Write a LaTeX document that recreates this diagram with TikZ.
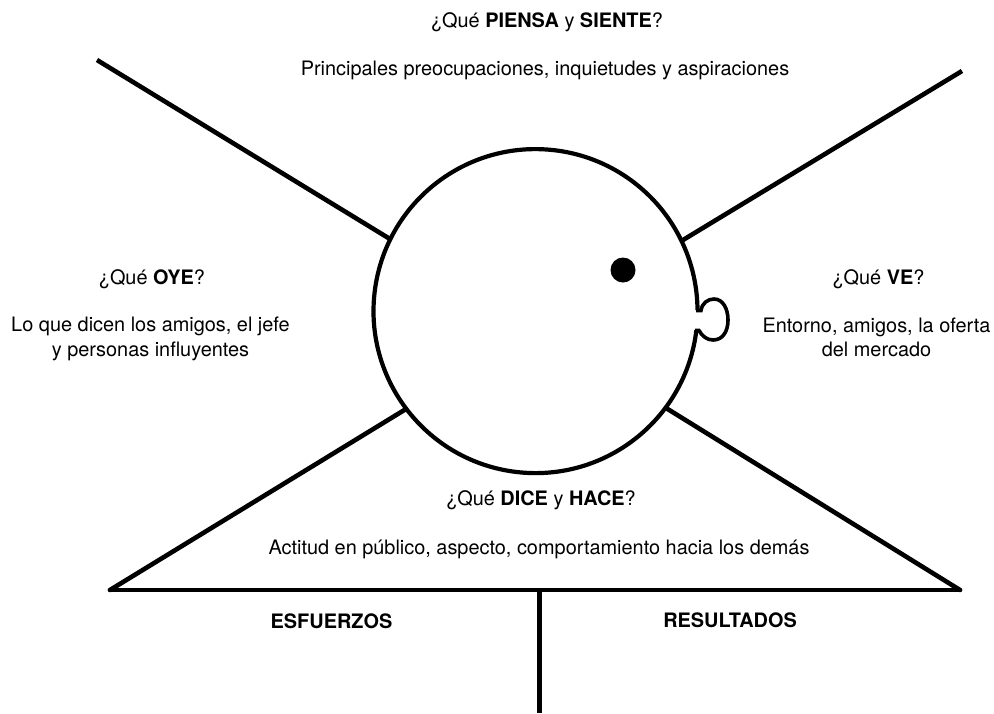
\documentclass[tikz,border=0pt]{standalone}
\usepackage{fontspec}
\setmainfont{TeX Gyre Heros}
\tikzset{
  heavy/.style={line width=4.6pt,black},
  ring/.style={line width=4.2pt,black},
  thinner/.style={line width=3.6pt,black},
  lbl/.style={font=\fontsize{19.9}{24.5}\selectfont,align=center,inner sep=0pt,anchor=base},
  twoline/.style={lbl,anchor=center}
}
\begin{document}
\begin{tikzpicture}[x=1pt,y=-1pt,line cap=butt]
\useasboundingbox (0,0) rectangle (994,713);
\fill[white] (0,0) rectangle (994,713);
\coordinate (tl) at (97,60);
\coordinate (tlc) at (390,239);
\coordinate (tr) at (962,71);
\coordinate (trc) at (683,240);
\coordinate (bl) at (110,590);
\coordinate (blc) at (406,409);
\coordinate (br) at (960,590);
\coordinate (brc) at (666,408);
\coordinate (m) at (539.5,590);
\coordinate (mb) at (539.5,713);
\coordinate (me) at (696.4,330);
\draw[ring] (me) arc[start angle=6.7,end angle=359.65,radius=162];
\draw[heavy] (tl)--(tlc);
\draw[heavy] (tr)--(trc);
\draw[heavy,line cap=round] (bl)--(blc);
\draw[heavy,line cap=round] (br)--(brc);
\draw[heavy,line cap=round] (bl)--(br);
\draw[heavy] (m)--(mb);
\fill (623,270) circle (12.5);
\draw[thinner] (696,310.5) -- (701,310.5) .. controls (702,303) and (708,299) .. (714,299) .. controls (723,299) and (728,309) .. (728,320) .. controls (728,331) and (723,340) .. (713,340) .. controls (707,340) and (702,336) .. (699,330.5) -- (695,330.5);
\node[lbl] (a) at (547,27) {¿Qué \textbf{PIENSA} y \textbf{SIENTE}?};
\node[lbl] (b) at (545,75) {Principales preocupaciones, inquietudes y aspiraciones};
\node[lbl] (d) at (152,284) {¿Qué \textbf{OYE}?};
\node[twoline] (e) at (150.5,339) {Lo que dicen los amigos, el jefe\\y personas influyentes};
\node[lbl] (f) at (878.5,284) {¿Qué \textbf{VE}?};
\node[twoline] (g) at (876.5,337.5) {Entorno, amigos, la oferta\\del mercado};
\node[lbl] (h) at (541,505) {¿Qué \textbf{DICE} y \textbf{HACE}?};
\node[lbl] (i) at (539,554) {Actitud en público, aspecto, comportamiento hacia los demás};
\node[lbl] (j) at (331.5,628) {\textbf{ESFUERZOS}};
\node[lbl] (k) at (730,627) {\textbf{RESULTADOS}};
\end{tikzpicture}
\end{document}
